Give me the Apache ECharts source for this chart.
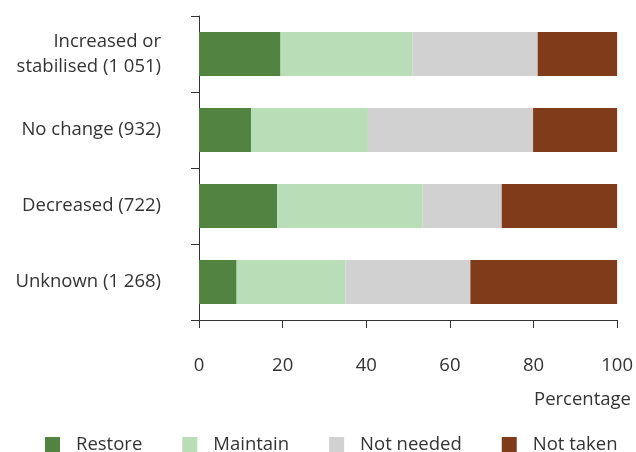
<!DOCTYPE html>
<html>
<head>
<meta charset="utf-8">
<script src="https://cdn.jsdelivr.net/npm/echarts@6/dist/echarts.min.js"></script>
<style>html,body{margin:0;padding:0;background:#fff;overflow:hidden;}#c{width:636px;height:452px;}</style>
</head>
<body>
<div id="c"></div>
<script>
const categories = ['Increased or\nstabilised (1 051)', 'No change (932)', 'Decreased (722)', 'Unknown (1 268)'];
const seriesNames = ['Restore', 'Maintain', 'Not needed', 'Not taken'];
const restore = [19.5, 12.5, 18.7, 9.0];
const maintain = [31.5, 27.9, 34.8, 26.0];
const notNeeded = [30.0, 39.5, 18.9, 29.9];
const notTaken = [19.0, 20.1, 27.6, 35.1];
const xTicks = [0, 20, 40, 60, 80, 100];
const colors = ['#538341', '#b9ddb6', '#d0d1d0', '#7f3b1a'];

const font = 'Open Sans';
const fs = 18.5;
const values = [restore, maintain, notNeeded, notTaken];
const chart = echarts.init(document.getElementById('c'), null, {renderer: 'canvas'});
chart.setOption({
  animation: false,
  textStyle: {fontFamily: font},
  grid: {left: 199, right: 16, top: 16, bottom: 132, containLabel: false},
  title: {
    text: 'Percentage', right: 0, top: 385,
    textStyle: {fontFamily: font, fontSize: fs, fontWeight: 'normal', color: '#333'}
  },
  legend: {
    data: seriesNames, left: 40, top: 430,
    icon: 'rect', itemWidth: 15, itemHeight: 15, itemGap: 40,
    textStyle: {fontFamily: font, fontSize: fs, color: '#333', padding: [0, 0, 0, 11]}
  },
  xAxis: {
    type: 'value', min: xTicks[0], max: xTicks[xTicks.length - 1], interval: 20,
    axisLine: {show: true, lineStyle: {color: '#333', width: 1}},
    axisTick: {show: true, length: 8, lineStyle: {color: '#333'}},
    splitLine: {show: false},
    axisLabel: {margin: 36, fontSize: fs, color: '#333', fontFamily: font}
  },
  yAxis: {
    type: 'category', data: categories, inverse: true,
    axisLine: {show: true, lineStyle: {color: '#333', width: 1}},
    axisTick: {show: true, length: 8, lineStyle: {color: '#333'}},
    axisLabel: {margin: 38, fontSize: fs, color: '#333', fontFamily: font, lineHeight: 25, align: 'right'}
  },
  series: seriesNames.map((n, i) => ({
    name: n, type: 'bar', stack: 'total', data: values[i],
    barWidth: 44,
    itemStyle: {color: colors[i]}
  }))
});
</script>
</body>
</html>
